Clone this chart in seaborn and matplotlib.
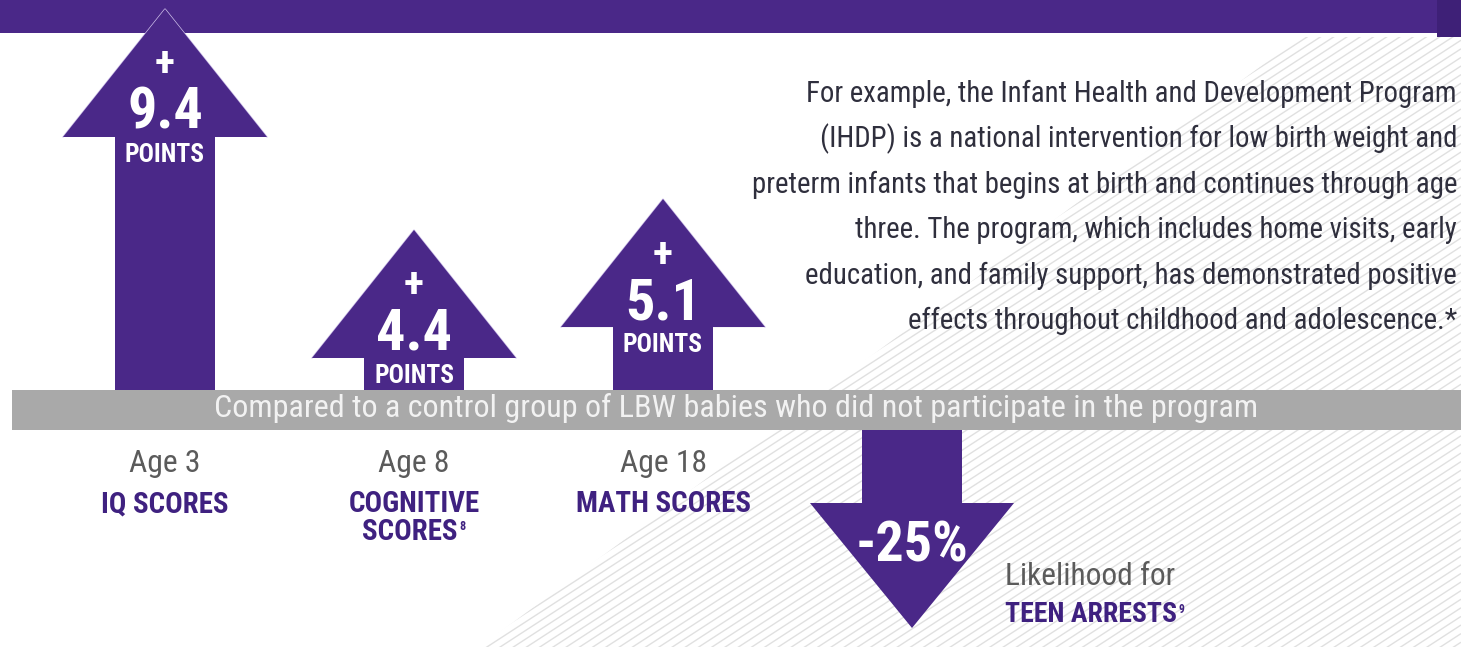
import matplotlib
matplotlib.use("Agg")
import matplotlib.pyplot as plt
import seaborn as sns
import pandas as pd
import numpy as np
from matplotlib import font_manager
from matplotlib.patches import Rectangle, Polygon
from matplotlib.collections import LineCollection

# ---------------- data ----------------
age_labels = ["Age 3", "Age 8", "Age 18"]
outcome_labels = ["IQ SCORES", "COGNITIVE", "MATH SCORES"]
outcome_second_line = ["", "SCORES", ""]
outcome_notes = ["", "8", ""]
point_gains = [9.4, 4.4, 5.1]
gain_unit = "POINTS"
arrest_labels = ["TEEN ARRESTS"]
arrest_change = [-25]
arrest_intro = "Likelihood for"
arrest_note = "9"
band_text = "Compared to a control group of LBW babies who did not participate in the program"
paragraph_lines = [
    "For example, the Infant Health and Development Program",
    "(IHDP) is a national intervention for low birth weight and",
    "preterm infants that begins at birth and continues through age",
    "three. The program, which includes home visits, early",
    "education, and family support, has demonstrated positive",
    "effects throughout childhood and adolescence.*",
]

# ---------------- style ----------------
W, H = 1461, 647
PURPLE = "#4a2888"
LABEL_PURPLE = "#3f2180"
GREY_TXT = "#5b5b5b"
PARA_TXT = "#2f2f3d"

sns.set_theme(style="white")
names = {f.name for f in font_manager.fontManager.ttflist}
COND = None
for cand in ["Roboto Condensed", "Liberation Sans Narrow", "Open Sans Condensed",
             "Noto Sans Condensed", "DejaVu Sans Condensed"]:
    if cand in names:
        COND = cand
        break
if COND is None:
    COND = "DejaVu Sans"
plt.rcParams["font.family"] = [COND, "DejaVu Sans"]
STRETCH = "condensed"

fig = plt.figure(figsize=(W / 100, H / 100), dpi=100)
fig.patch.set_facecolor("white")
renderer = fig.canvas.get_renderer()

# background axes in pixel coordinates
bg = fig.add_axes([0, 0, 1, 1], zorder=0)
bg.set_xlim(0, W)
bg.set_ylim(H, 0)
bg.axis("off")

# diagonal hatching on the right side
hatch_poly = Polygon([(1300, 37), (W, 37), (W, H), (480, H)], closed=True,
                     facecolor="none", edgecolor="none", transform=bg.transData)
bg.add_patch(hatch_poly)
t = np.tan(np.radians(33))
segs = []
for c in np.arange(0, H + t * W + 20, 8.6):
    segs.append([(0, c), (W, c - t * W)])
lc = LineCollection(segs, colors="#e0e0e0", linewidths=1.0)
bg.add_collection(lc)
lc.set_clip_path(hatch_poly)

# top purple band
bg.add_patch(Rectangle((0, 0), W, 33, facecolor=PURPLE, edgecolor="none"))
bg.add_patch(Rectangle((1437, 0), W - 1437, 37, facecolor="#3e2077", edgecolor="none"))

# ---------------- up arrows (data axes) ----------------
spacing = 249.0
x_left = -165.0 / spacing
x_right = x_left + W / spacing

up_base_px = 390
ax_up = fig.add_axes([0, (H - up_base_px) / H, 1, up_base_px / H], zorder=1)
ax_up.patch.set_alpha(0)
y_lo = 0.78
px_per_pt = 44.2
y_hi = y_lo + up_base_px / px_per_pt
head_h = 128 / px_per_pt
head_hw = 102 / spacing

df_up = pd.DataFrame({"outcome": outcome_labels, "gain": point_gains})
df_up["shaft"] = df_up["gain"] - head_h + 0.03
sns.barplot(data=df_up, x="outcome", y="shaft", color=PURPLE, saturation=1,
            width=100 / spacing, linewidth=0, ax=ax_up)
for i, v in enumerate(point_gains):
    ax_up.plot([i - head_hw, i, i + head_hw], [v - head_h, v, v - head_h],
               color="#cdbfe9", lw=1.0, solid_joinstyle="miter", zorder=2)
    ax_up.fill([i - head_hw, i + head_hw, i], [v - head_h, v - head_h, v],
               color=PURPLE, lw=0, zorder=3)
ax_up.set_xlim(x_left, x_right)
ax_up.set_ylim(y_lo, y_hi)
ax_up.axis("off")

# ---------------- down arrow ----------------
dn_top_px = 430
ax_dn = fig.add_axes([0, 0, 1, (H - dn_top_px) / H], zorder=1)
ax_dn.patch.set_alpha(0)
px_per_pct = 198 / 25
dn_lo = -(H - dn_top_px) / px_per_pct
head_h_dn = 125 / px_per_pct
df_dn = pd.DataFrame({"outcome": arrest_labels, "change": arrest_change})
df_dn["shaft"] = df_dn["change"] + head_h_dn - 0.2
sns.barplot(data=df_dn, x="outcome", y="shaft", color=PURPLE, saturation=1,
            width=100 / spacing, linewidth=0, ax=ax_dn)
for i, v in enumerate(arrest_change):
    ax_dn.fill([i - head_hw, i + head_hw, i], [v + head_h_dn, v + head_h_dn, v],
               color=PURPLE, lw=0, zorder=3)
ax_dn.set_xlim(x_left - 3, x_right - 3)
ax_dn.set_ylim(dn_lo, 0)
ax_dn.axis("off")

# ---------------- overlay (pixel coords) ----------------
ov = fig.add_axes([0, 0, 1, 1], zorder=3)
ov.set_xlim(0, W)
ov.set_ylim(H, 0)
ov.axis("off")
ov.patch.set_alpha(0)


def fit(s, width_px, weight="normal", ref=20.0):
    tt = ov.text(0, 0, s, fontsize=ref, fontweight=weight, fontstretch=STRETCH)
    w = tt.get_window_extent(renderer).width
    tt.remove()
    return ref * width_px / w


def px(ax, x, y):
    X, Y = ax.transData.transform((x, y))
    return X, H - Y


# grey band
ov.add_patch(Rectangle((12, 390), W - 12, 40, facecolor="#a9a9a9", edgecolor="none"))
fs_band = fit(band_text, 1042)
ov.text(736, 417, band_text, color="#f2f2f2", fontsize=fs_band, ha="center",
        va="baseline", fontstretch=STRETCH)

# paragraph
fs_para = fit(paragraph_lines[2], 701)
for k, line in enumerate(paragraph_lines):
    ov.text(1457, 102 + 45.4 * k, line, color=PARA_TXT, fontsize=fs_para,
            ha="right", va="baseline", fontstretch=STRETCH)

# arrow labels
fs_num = fit("9.4", 76, weight="bold")
fs_pts = fit(gain_unit, 80, weight="bold")
fs_plus = fit("+", 20, weight="bold")
for i, v in enumerate(point_gains):
    xc, hb = px(ax_up, i, v - head_h)
    ov.text(xc, hb - 72, "+", color="white", fontsize=fs_plus, fontweight="bold",
            ha="center", va="center", fontstretch=STRETCH)
    ov.text(xc, hb - 8, f"{v:.1f}", color="white", fontsize=fs_num, fontweight="bold",
            ha="center", va="baseline", fontstretch=STRETCH)
    ov.text(xc, hb + 25, gain_unit, color="white", fontsize=fs_pts, fontweight="bold",
            ha="center", va="baseline", fontstretch=STRETCH)

# bottom category labels
fs_age = fit("Age 18", 87)
fs_cat = fit("MATH SCORES", 175, weight="bold")
for i in range(len(age_labels)):
    xc, _ = px(ax_up, i, y_lo)
    ov.text(xc, 472, age_labels[i], color=GREY_TXT, fontsize=fs_age, ha="center",
            va="baseline", fontstretch=STRETCH)
    last = ov.text(xc, 512, outcome_labels[i], color=LABEL_PURPLE, fontsize=fs_cat,
                   fontweight="bold", ha="center", va="baseline", fontstretch=STRETCH)
    if outcome_second_line[i]:
        last = ov.text(xc - 4, 540, outcome_second_line[i], color=LABEL_PURPLE,
                       fontsize=fs_cat, fontweight="bold", ha="center", va="baseline",
                       fontstretch=STRETCH)
    if outcome_notes[i]:
        ov.annotate(outcome_notes[i], xy=(1, 0.92), xycoords=last, xytext=(1, 0),
                    textcoords="offset points", color=LABEL_PURPLE,
                    fontsize=fs_cat * 0.42, fontweight="bold", ha="left", va="top")

# down arrow text
xd, hbd = px(ax_dn, 0, arrest_change[0] + head_h_dn)
fs_pct = fit("-25%", 113, weight="bold")
ov.text(xd, hbd + 59, f"{arrest_change[0]}%", color="white", fontsize=fs_pct,
        fontweight="bold", ha="center", va="baseline", fontstretch=STRETCH)
fs_like = fit(arrest_intro, 170)
ov.text(1005, 585, arrest_intro, color=GREY_TXT, fontsize=fs_like, ha="left",
        va="baseline", fontstretch=STRETCH)
fs_teen = fit(arrest_labels[0], 172, weight="bold")
tl = ov.text(1005, 622, arrest_labels[0], color=LABEL_PURPLE, fontsize=fs_teen,
             fontweight="bold", ha="left", va="baseline", fontstretch=STRETCH)
ov.annotate(arrest_note, xy=(1, 0.92), xycoords=tl, xytext=(1, 0),
            textcoords="offset points", color=LABEL_PURPLE, fontsize=fs_teen * 0.42,
            fontweight="bold", ha="left", va="top")

fig.savefig("out.png", dpi=100, facecolor="white")
